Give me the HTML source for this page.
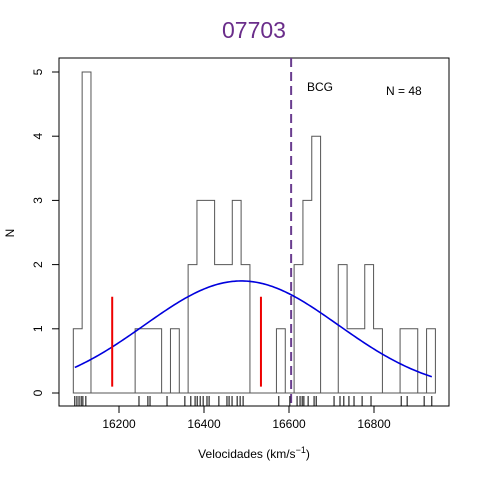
<!DOCTYPE html>
<html><head><meta charset="utf-8"><style>body{margin:0;background:#fff}svg{display:block}text{font-family:"Liberation Sans",sans-serif}</style></head>
<body>
<svg id="c" width="480" height="480"></svg>
<script>
const binStart=16092.5, binWidth=20.78;
const counts=[1,5,0,0,0,0,0,1,1,1,0,1,0,2,3,3,2,2,3,2,0,0,0,1,0,2,3,4,0,0,2,1,1,2,1,0,0,1,1,0,1];
const rug=[16096,16101,16106,16111,16115,16122,16247,16268,16273,16313,16355,16369,16379,16384,16391,16398,16407,16412,16435,16454,16459,16466,16478,16485,16492,16576,16602,16619,16626,16631,16635,16645,16659,16664,16706,16720,16729,16741,16753,16772,16793,16864,16878,16918,16936];
const xTicks=[16200,16400,16600,16800];
const yTicks=[0,1,2,3,4,5];
const gMean=16488, gSd=228, nTotal=48;
const redLines=[16184,16534];
const bcg=16605;
const NS="http://www.w3.org/2000/svg", svg=document.getElementById('c');
const X=v=>119+(v-16200)*0.425, Y=n=>393-n*64.2;
function el(t,a,p){const e=document.createElementNS(NS,t);for(const k in a)e.setAttribute(k,a[k]);(p||svg).appendChild(e);return e;}
let r=el('rect',{x:59,y:58,width:390,height:348,fill:'none',stroke:'#000'});

// histogram
let d='M'+X(binStart)+','+Y(0);
counts.forEach((c,i)=>{const x0=X(binStart+i*binWidth),x1=X(binStart+(i+1)*binWidth);d+=' L'+x0+','+Y(c)+' L'+x1+','+Y(c);});
d+=' L'+X(binStart+counts.length*binWidth)+','+Y(0)+' Z';
let h=el('path',{d:d,fill:'none',stroke:'#555','stroke-width':1});

// gaussian
let gd='';const amp=nTotal*binWidth/(gSd*Math.sqrt(2*Math.PI));
for(let v=16096;v<=16936;v+=5){const y=amp*Math.exp(-((v-gMean)**2)/(2*gSd*gSd));gd+=(gd?' L':'M')+X(v)+','+Y(y);}
let g=el('path',{d:gd,fill:'none',stroke:'#0000dd','stroke-width':1.6});

redLines.forEach(v=>{const l=el('line',{x1:X(v),x2:X(v),y1:Y(1.5),y2:Y(0.1),stroke:'#ee0000','stroke-width':2});
});
let b=el('line',{x1:X(bcg),x2:X(bcg),y1:58,y2:406,stroke:'#6a3d8f','stroke-width':2,'stroke-dasharray':'9,5'});

rug.forEach(v=>{const l=el('line',{x1:X(v),x2:X(v),y1:396,y2:406,stroke:'#000','stroke-width':1});
});
// axes
el('line',{x1:X(16200),x2:X(16800),y1:406,y2:406,stroke:'#000'});
xTicks.forEach(v=>{el('line',{x1:X(v),x2:X(v),y1:406,y2:413,stroke:'#000'});
const t=el('text',{x:X(v),y:428,'text-anchor':'middle','font-size':12});t.textContent=v;
});
el('line',{x1:59,x2:59,y1:Y(0),y2:Y(5),stroke:'#000'});
yTicks.forEach(n=>{el('line',{x1:52,x2:59,y1:Y(n),y2:Y(n),stroke:'#000'});
const t=el('text',{x:42,y:Y(n),'text-anchor':'middle','font-size':12,transform:'rotate(-90 42 '+Y(n)+')'});t.textContent=n;
});
</script>
<svg width="480" height="480" style="position:absolute;left:0;top:0">
<text x="254" y="38" text-anchor="middle" font-size="23" fill="#6a2d8a" font-family="Liberation Sans,sans-serif">07703</text>
<text x="254" y="458" text-anchor="middle" font-size="12" font-family="Liberation Sans,sans-serif">Velocidades  (km/s<tspan dy="-5" font-size="9">−1</tspan><tspan dy="5">)</tspan></text>
<text x="14" y="233" text-anchor="middle" font-size="12" transform="rotate(-90 14 233)" font-family="Liberation Sans,sans-serif">N</text>
<text x="307" y="91" font-size="12" font-family="Liberation Sans,sans-serif">BCG</text>
<text x="386" y="95" font-size="12" font-family="Liberation Sans,sans-serif">N =  48</text>
</svg>
</body></html>
